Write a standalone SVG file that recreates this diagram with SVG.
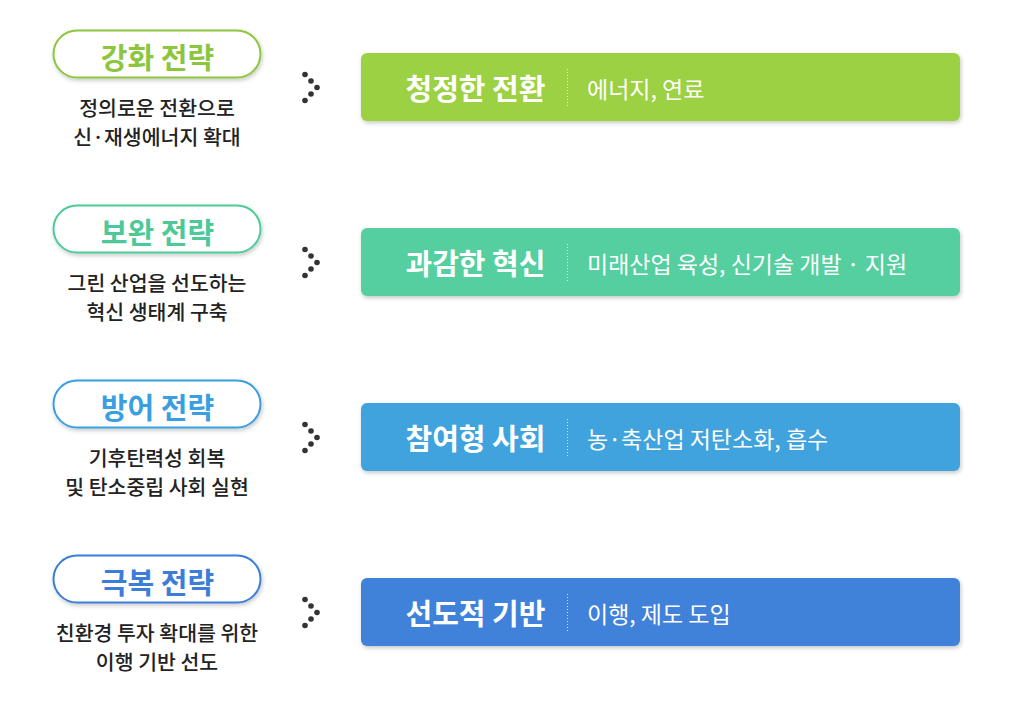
<svg xmlns="http://www.w3.org/2000/svg" width="1014" height="703" viewBox="0 0 1014 703">
<defs>
<filter id="sh" x="-10%" y="-20%" width="120%" height="150%">
<feDropShadow dx="1" dy="2" stdDeviation="2" flood-color="#000" flood-opacity="0.22"/>
</filter>
<style>
text{font-family:"Noto Sans CJK KR","Noto Sans",sans-serif}
.pill{fill:#fff;stroke-width:2;filter:url(#sh)}
.pt{font-size:29px;font-weight:700;text-anchor:middle}
.desc{font-size:20.5px;font-weight:500;fill:#222;text-anchor:middle}
.bar{filter:url(#sh)}
.tt{font-size:29px;font-weight:700;fill:#fff;text-anchor:middle}
.st{font-size:23px;font-weight:400;fill:#fff}
.div{stroke:#fff;stroke-opacity:0.75;stroke-width:1;stroke-dasharray:1 2}
.dot{fill:#333}
</style>
</defs>
<rect width="1014" height="703" fill="#fff"/>
<g id="strategy1">
<rect class="pill" x="53.5" y="30.5" width="207" height="47" rx="23.5" stroke="#8ec63f"/>
<text class="pt" x="157.5" y="69" fill="#8cc63f">강화 전략</text>
<text class="desc" x="157" y="116">정의로운 전환으로</text>
<text class="desc" x="157" y="144.5">신·재생에너지 확대</text>
</g>
<g id="strategy2">
<rect class="pill" x="53.5" y="205.5" width="207" height="47" rx="23.5" stroke="#4dcb98"/>
<text class="pt" x="157.5" y="244" fill="#4cc996">보완 전략</text>
<text class="desc" x="157" y="291">그린 산업을 선도하는</text>
<text class="desc" x="157" y="319.5">혁신 생태계 구축</text>
</g>
<g id="strategy3">
<rect class="pill" x="53.5" y="380.5" width="207" height="47" rx="23.5" stroke="#3b9fe0"/>
<text class="pt" x="157.5" y="419" fill="#3a9fe0">방어 전략</text>
<text class="desc" x="157" y="466">기후탄력성 회복</text>
<text class="desc" x="157" y="494.5">및 탄소중립 사회 실현</text>
</g>
<g id="strategy4">
<rect class="pill" x="53.5" y="555.5" width="207" height="47" rx="23.5" stroke="#3b7fd9"/>
<text class="pt" x="157.5" y="594" fill="#3b7dd8">극복 전략</text>
<text class="desc" x="157" y="641">친환경 투자 확대를 위한</text>
<text class="desc" x="157" y="669.5">이행 기반 선도</text>
</g>
<g id="connectors">
<g transform="translate(0,87.5)"><circle class="dot" cx="305" cy="-13" r="2.8"/><circle class="dot" cx="311" cy="-6.5" r="2.8"/><circle class="dot" cx="317" cy="0" r="2.8"/><circle class="dot" cx="311" cy="6.5" r="2.8"/><circle class="dot" cx="305" cy="13" r="2.8"/></g>
<g transform="translate(0,262.5)"><circle class="dot" cx="305" cy="-13" r="2.8"/><circle class="dot" cx="311" cy="-6.5" r="2.8"/><circle class="dot" cx="317" cy="0" r="2.8"/><circle class="dot" cx="311" cy="6.5" r="2.8"/><circle class="dot" cx="305" cy="13" r="2.8"/></g>
<g transform="translate(0,437.5)"><circle class="dot" cx="305" cy="-13" r="2.8"/><circle class="dot" cx="311" cy="-6.5" r="2.8"/><circle class="dot" cx="317" cy="0" r="2.8"/><circle class="dot" cx="311" cy="6.5" r="2.8"/><circle class="dot" cx="305" cy="13" r="2.8"/></g>
<g transform="translate(0,612.5)"><circle class="dot" cx="305" cy="-13" r="2.8"/><circle class="dot" cx="311" cy="-6.5" r="2.8"/><circle class="dot" cx="317" cy="0" r="2.8"/><circle class="dot" cx="311" cy="6.5" r="2.8"/><circle class="dot" cx="305" cy="13" r="2.8"/></g>
</g>
<g id="bar1">
<rect class="bar" x="361" y="53" width="599" height="68" rx="6" fill="#9bd142"/>
<text class="tt" x="475.5" y="99.5">청정한 전환</text>
<line class="div" x1="567.5" y1="69" x2="567.5" y2="107"/>
<text class="st" x="587" y="97.5">에너지, 연료</text>
</g>
<g id="bar2">
<rect class="bar" x="361" y="228" width="599" height="68" rx="6" fill="#55cfa0"/>
<text class="tt" x="475.5" y="274.5">과감한 혁신</text>
<line class="div" x1="567.5" y1="244" x2="567.5" y2="282"/>
<text class="st" x="587" y="272.5">미래산업 육성, 신기술 개발 · 지원</text>
</g>
<g id="bar3">
<rect class="bar" x="361" y="403" width="599" height="68" rx="6" fill="#40a3de"/>
<text class="tt" x="475.5" y="449.5">참여형 사회</text>
<line class="div" x1="567.5" y1="419" x2="567.5" y2="457"/>
<text class="st" x="587" y="447.5">농·축산업 저탄소화, 흡수</text>
</g>
<g id="bar4">
<rect class="bar" x="361" y="578" width="599" height="68" rx="6" fill="#4082d9"/>
<text class="tt" x="475.5" y="624.5">선도적 기반</text>
<line class="div" x1="567.5" y1="594" x2="567.5" y2="632"/>
<text class="st" x="587" y="622.5">이행, 제도 도입</text>
</g>
</svg>
